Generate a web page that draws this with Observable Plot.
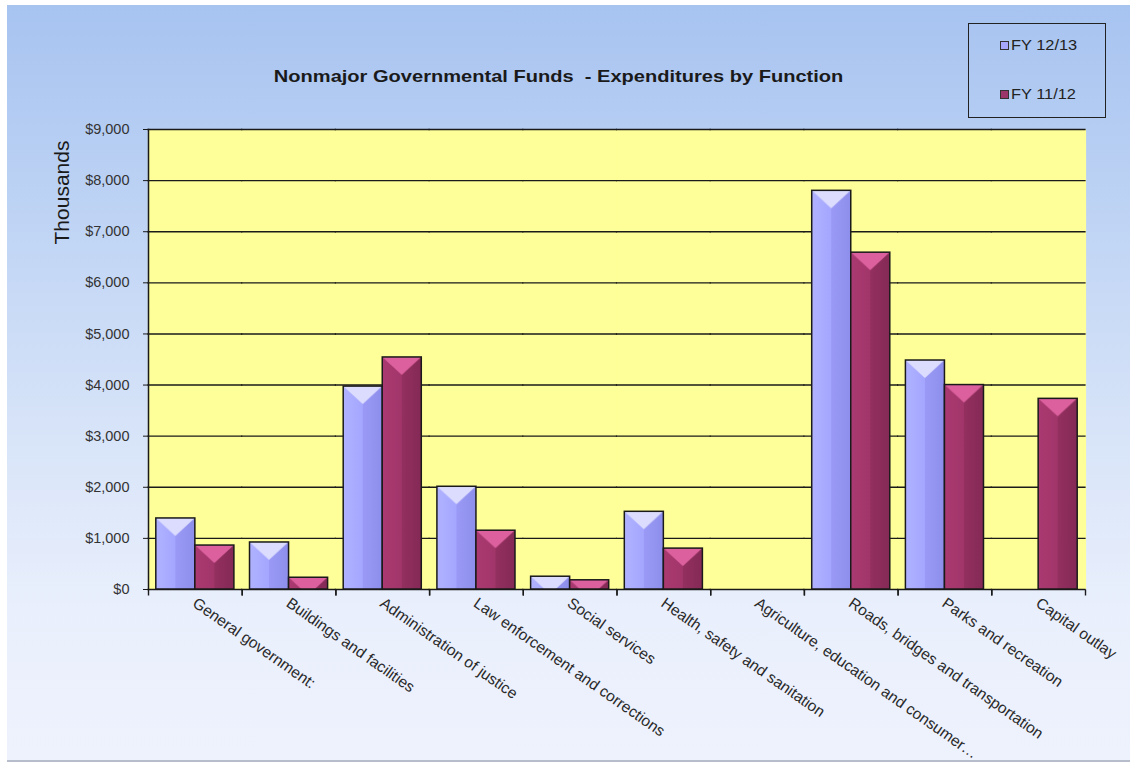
<!DOCTYPE html>
<html>
<head>
<meta charset="utf-8">
<script src="https://cdn.jsdelivr.net/npm/d3@7"></script>
<script src="https://cdn.jsdelivr.net/npm/@observablehq/plot@0.6"></script>
<style>
  body { margin: 0; background: #ffffff; font-family: "Liberation Sans", Arial, sans-serif; }
  #wrap { position: relative; width: 1133px; height: 764px; overflow: hidden; }
  #bg { position: absolute; left: 7px; top: 5px; width: 1123px; height: 755px;
        background: linear-gradient(#a7c3f0 0%, #bcd2f4 25%, #d6e3f8 55%, #e9effc 80%, #eef2fd 100%);
        border-bottom: 2px solid #b7bdca; }
  #header { position: relative; height: 118px; }
  #title { position: absolute; left: 0; width: 1117px; top: 67px; text-align: center;
           font-weight: bold; font-size: 17px; color: #1a1a1a; white-space: pre;
           transform: scaleX(1.18); transform-origin: 558px 0; }
  #legend { position: absolute; left: 968px; top: 23px; width: 138px; height: 95px;
            border: 1.5px solid #222; box-sizing: border-box; }
  .item { position: absolute; left: 31px; font-size: 14px; color: #222; display: flex; align-items: center; }
  .item span.t { display: inline-block; transform: scaleX(1.17); transform-origin: 0 0; }
  .sw { width: 7px; height: 7px; border: 1.5px solid #333; margin-right: 2px; }
  #plotbox { position: relative; }
</style>
</head>
<body>
<div id="wrap">
  <div id="bg"></div>
  <div id="header">
    <div id="title">Nonmajor Governmental Funds  - Expenditures by Function</div>
    <div id="legend">
      <div class="item" style="top:13px"><span class="sw" style="background:#a6a8ff"></span><span class="t">FY 12/13</span></div>
      <div class="item" style="top:62px"><span class="sw" style="background:#9c3569"></span><span class="t">FY 11/12</span></div>
    </div>
  </div>
  <div id="plotbox"></div>
</div>
<script>
// ---- data ----
const categories = [
  "General government:",
  "Buildings and facilities",
  "Administration of justice",
  "Law enforcement and corrections",
  "Social services",
  "Health, safety and sanitation",
  "Agriculture, education and consumer\u2026",
  "Roads, bridges and transportation",
  "Parks and recreation",
  "Capital outlay"
];
const seriesNames = ["FY 12/13", "FY 11/12"];
const fy1213 = [1390, 920, 3970, 2010, 250, 1520, 0, 7800, 4480, 0];
const fy1112 = [860, 230, 4540, 1150, 180, 800, 0, 6590, 4000, 3730];
const yTicks = [0, 1000, 2000, 3000, 4000, 5000, 6000, 7000, 8000, 9000];

const data = categories.flatMap((c, i) => [
  {category: c, series: seriesNames[0], value: fy1213[i]},
  {category: c, series: seriesNames[1], value: fy1112[i]}
]);

const tickSymbol = { draw(ctx) { ctx.moveTo(0, 0); ctx.lineTo(0, 6); } };
const ink = "#1a1a1a";

const plot = Plot.plot({
  width: 1133,
  height: 646,
  marginTop: 11,
  marginBottom: 175,
  marginLeft: 148,
  marginRight: 48,
  style: {background: "transparent", fontFamily: "'Liberation Sans', Arial, sans-serif", overflow: "visible"},
  fx: {domain: categories, padding: 0, round: false, label: null},
  x: {domain: seriesNames, paddingInner: 0, paddingOuter: 0.2, round: false, axis: null},
  y: {domain: [0, 9000], label: null},
  color: {domain: seriesNames, range: ["url(#patBlue)", "url(#patRed)"]},
  marks: [
    Plot.frame({fill: "#ffff99", stroke: null, insetLeft: -0.6, insetRight: -0.6}),
    Plot.ruleY(yTicks, {stroke: ink, strokeWidth: 1.4, insetLeft: -0.6, insetRight: -0.6}),
    Plot.barY(data, {
      filter: d => d.value > 0,
      fx: "category", x: "series", y: "value", fill: "series",
      stroke: ink, strokeWidth: 1.5
    }),
    Plot.frame({anchor: "left", fx: [categories[0]], stroke: ink, strokeWidth: 1.5}),
    Plot.dot([0], {frameAnchor: "bottom-left", symbol: tickSymbol, fill: "none", stroke: ink, strokeWidth: 1.4}),
    Plot.dot([0], {frameAnchor: "bottom-right", symbol: tickSymbol, fill: "none", stroke: ink, strokeWidth: 1.4}),
    Plot.axisY({
      ticks: yTicks, tickFormat: d => "$" + d3.format(",")(d),
      tickSize: 5, tickPadding: 14, fontSize: 14.5, color: "#333", stroke: ink, label: null
    }),
    Plot.axisFx({
      anchor: "bottom", tickSize: 0, tickPadding: 12, tickRotate: 35, textAnchor: "start",
      fontSize: 15.5, color: "#2a2a2a", label: null, dx: -1
    }),
    Plot.text(["Thousands"], {
      fx: [categories[0]], frameAnchor: "top-left", rotate: -90, dx: -94, dy: 63,
      fontSize: 21, fill: "#1a1a1a", textAnchor: "middle"
    })
  ]
});

document.getElementById("plotbox").appendChild(plot);

// bevelled bar fills (patterns sized to the rendered bar width)
const svg = plot.tagName.toLowerCase() === "svg" ? plot : plot.querySelector("svg");
const firstBar = svg.querySelector('g[aria-label="bar"] rect');
const W = firstBar ? +firstBar.getAttribute("width") : 40;
const defs = d3.select(svg).insert("defs", ":first-child");
function makePattern(id, c) {
  const gid = id + "Grad";
  const g = defs.append("linearGradient").attr("id", gid).attr("x1", 0).attr("x2", 1).attr("y1", 0).attr("y2", 0);
  g.append("stop").attr("offset", 0).attr("stop-color", c[0]);
  g.append("stop").attr("offset", 0.5).attr("stop-color", c[1]);
  g.append("stop").attr("offset", 0.5).attr("stop-color", c[2]);
  g.append("stop").attr("offset", 1).attr("stop-color", c[3]);
  const p = defs.append("pattern").attr("id", id)
    .attr("patternUnits", "objectBoundingBox").attr("x", 0).attr("y", 0).attr("width", 1).attr("height", 1);
  p.append("rect").attr("x", 0).attr("y", 0).attr("width", W).attr("height", 1000).attr("fill", `url(#${gid})`);
  p.append("polygon").attr("points", `0,0 ${W},0 ${W / 2},18`).attr("fill", c[4]);
}
makePattern("patBlue", ["#b0b2ff", "#a4a6ff", "#9a9af6", "#8d8deb", "#dcdcff"]);
makePattern("patRed", ["#aa3a71", "#a1356a", "#93305f", "#842956", "#dc609d"]);
</script>
</body>
</html>
